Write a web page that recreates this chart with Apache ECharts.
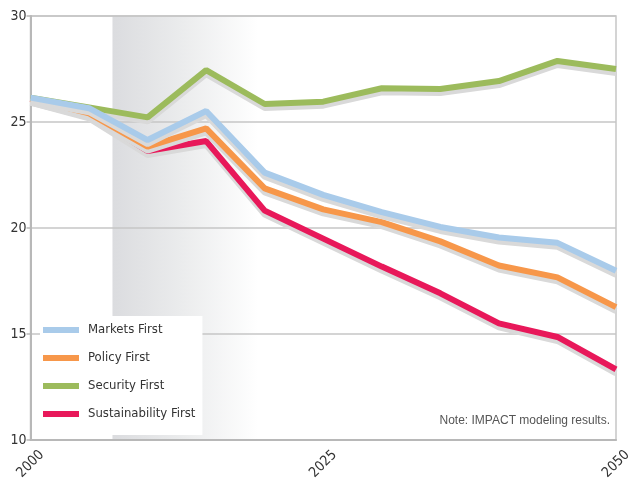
<!DOCTYPE html>
<html>
<head>
<meta charset="utf-8">
<script src="https://cdn.jsdelivr.net/npm/echarts@6/dist/echarts.min.js"></script>
<style>html,body{margin:0;padding:0;background:#fff}#c{width:637px;height:483px}</style>
</head>
<body>
<div id="c"></div>
<script>
const years = [2000, 2005, 2010, 2015, 2020, 2025, 2030, 2035, 2040, 2045, 2050];
const marketsFirst = [26.15, 25.65, 24.15, 25.52, 22.61, 21.56, 20.75, 20.05, 19.55, 19.3, 17.98];
const policyFirst = [26.1, 25.41, 23.84, 24.70, 21.87, 20.88, 20.28, 19.37, 18.23, 17.67, 16.27];
const securityFirst = [26.15, 25.69, 25.22, 27.45, 25.85, 25.96, 26.59, 26.56, 26.93, 27.88, 27.5];
const sustainabilityFirst = [26.1, 25.36, 23.63, 24.10, 20.82, 19.5, 18.18, 16.92, 15.5, 14.86, 13.33];
const seriesNames = ['Markets First', 'Policy First', 'Security First', 'Sustainability First'];
const yTicks = [10, 15, 20, 25, 30];
const xTicks = [2000, 2025, 2050];
const shadeRange = [2007, 2050];
const noteText = 'Note: IMPACT modeling results.';

const FONT = '"DejaVu Sans Condensed", "Liberation Sans Narrow", sans-serif';
function pairs(vals) { return years.map((y, i) => [y, vals[i]]); }
function mkSeries(name, vals, color, z) {
  return {
    name, type: 'line', data: pairs(vals), symbol: 'none', z,
    itemStyle: { color },
    lineStyle: { color, width: 6, shadowColor: '#d9d9d9', shadowBlur: 0, shadowOffsetY: 4 },
    emphasis: { disabled: true }
  };
}
const chart = echarts.init(document.getElementById('c'), null, { renderer: 'canvas' });
const shade = {
  name: 'shade', type: 'line', data: [], z: 0, silent: true,
  markArea: {
    silent: true, z: 0,
    itemStyle: {
      color: { type: 'linear', x: 0, y: 0, x2: 1, y2: 0,
        colorStops: [{ offset: 0, color: '#dbdcdf' }, { offset: 0.14, color: '#ebeced' }, { offset: 0.29, color: '#ffffff' }, { offset: 1, color: '#ffffff' }] }
    },
    data: [[{ xAxis: shadeRange[0] }, { xAxis: shadeRange[1] }]]
  }
};
const series = [
  shade,
  mkSeries(seriesNames[3], sustainabilityFirst, '#e8185a', 3),
  mkSeries(seriesNames[1], policyFirst, '#f7974a', 4),
  mkSeries(seriesNames[2], securityFirst, '#9cbb5c', 5),
  mkSeries(seriesNames[0], marketsFirst, '#a9cbea', 6)
];
chart.setOption({
  animation: false,
  grid: { left: 30.5, right: 21, top: 16, bottom: 43, show: true, z: 1, borderColor: '#c6c6c6', borderWidth: 1.5, backgroundColor: 'transparent' },
  xAxis: {
    type: 'value', min: 2000, max: 2050, interval: 25, z: 1,
    axisLine: { show: true, lineStyle: { color: '#b8b8b8', width: 2 } },
    axisTick: { show: false },
    splitLine: { show: false },
    axisLabel: { rotate: 45, margin: 24, align: 'center', verticalAlign: 'middle', color: '#333', fontFamily: FONT, fontSize: 14,
      formatter: v => xTicks.includes(v) ? String(v) : '' }
  },
  yAxis: {
    type: 'value', min: 10, max: 30, interval: 5, z: 1,
    axisLine: { show: true, lineStyle: { color: '#b8b8b8', width: 2 } },
    axisTick: { show: true, length: 4, lineStyle: { color: '#b8b8b8', width: 1.5 } },
    splitLine: { show: true, lineStyle: { color: '#c6c6c6', width: 1.5 } },
    axisLabel: { margin: 4, color: '#333', fontFamily: FONT, fontSize: 14,
      formatter: v => yTicks.includes(v) ? String(v) : '' }
  },
  legend: {
    data: seriesNames, orient: 'vertical', left: 40, top: 316, z: 10,
    backgroundColor: '#ffffff', padding: [6, 7, 13, 3],
    icon: 'rect', itemWidth: 36, itemHeight: 6, itemGap: 12,
    itemStyle: { shadowColor: 'transparent', shadowBlur: 0, shadowOffsetY: 0 },
    textStyle: { color: '#333', fontFamily: FONT, fontSize: 13, lineHeight: 16, padding: [0, 0, 0, 4] },
    selectedMode: false
  },
  graphic: [{
    type: 'text', right: 27, top: 415, z: 100,
    style: { text: noteText, fill: '#555', font: '12px "Liberation Sans", sans-serif' }
  }],
  series
});
</script>
</body>
</html>
